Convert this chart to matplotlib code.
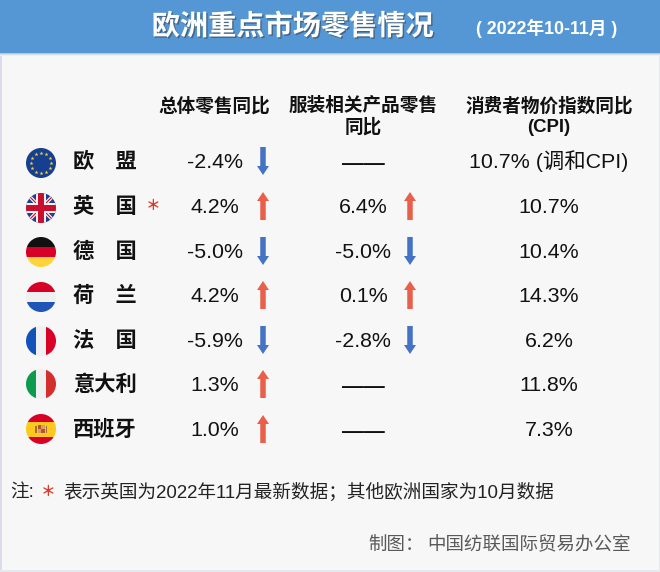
import matplotlib
matplotlib.use('Agg')
import matplotlib.pyplot as plt
import matplotlib.patheffects as pe
from matplotlib.patches import Rectangle, Circle
import numpy as np

plt.rcParams['font.family'] = ['Liberation Sans', 'Noto Sans CJK SC']

countries = ['欧　盟', '英　国', '德　国', '荷　兰', '法　国', '意大利', '西班牙']
retail = [-2.4, 4.2, -5.0, 4.2, -5.9, 1.3, 1.0]
apparel = [None, 6.4, -5.0, 0.1, -2.8, None, None]
cpi = ['10.7% (调和CPI)', '10.7%', '10.4%', '14.3%', '6.2%', '11.8%', '7.3%']
col_titles = [['总体零售同比'], ['服装相关产品零售', '同比'], ['消费者物价指数同比', '(CPI)']]

BLUE = '#5597D5'
UP = '#E8604A'
DOWN = '#4472C4'
TEXT = '#111111'
STAR = '#D93A2B'
row_y = [162, 207, 252, 296, 341, 385, 430]
flag_y = [163, 208, 252, 297, 341, 384, 429]

fig = plt.figure(figsize=(6.6, 5.72), dpi=100, facecolor='#F7F7F7')
ax = fig.add_axes([0, 0, 1, 1])
ax.set_xlim(0, 660)
ax.set_ylim(572, 0)
ax.axis('off')

# header band and its soft shadow
ax.add_patch(Rectangle((0, 0), 660, 53, color=BLUE, lw=0, zorder=2))
for i, c in enumerate(['#B9C6D3', '#DADFE4', '#EEEFF1']):
    ax.add_patch(Rectangle((0, 53 + i), 660, 1, color=c, lw=0, zorder=1))
ax.add_patch(Rectangle((0, 56), 1.5, 516, color='#DCDCEC', lw=0, zorder=1))
ax.add_patch(Rectangle((0, 570), 660, 2, color='#E6E8EE', lw=0, zorder=1))
ax.add_patch(Rectangle((658.5, 56), 1.5, 516, color='#E6E8EE', lw=0, zorder=1))

ax.text(293, 27, '欧洲重点市场零售情况', color='white', fontsize=20.3, fontweight='bold',
        ha='center', va='center', zorder=3,
        path_effects=[pe.withSimplePatchShadow(offset=(1, -1), shadow_rgbFace='#333333', alpha=0.5)])
ax.text(547, 28, '( 2022年10-11月 )', color='white', fontsize=12.8, fontweight='bold',
        ha='center', va='center', zorder=3)

for x, lines in zip([214, 363, 549], col_titles):
    for k, t in enumerate(lines):
        ax.text(x, 106 + 21 * k, t, fontsize=13.4, fontweight='bold', ha='center', va='center', color=TEXT)


def clip_all(patches, cx, cy, r=15):
    for p in patches:
        if isinstance(p, Rectangle):
            ax.add_patch(p)
        p.set_clip_path(Circle((cx, cy), r, transform=ax.transData))


def stripes(cx, cy, colors, vertical=False, sizes=None):
    # flag made of even bands, clipped to a disc
    r = 15
    sizes = sizes or [1] * len(colors)
    edges = np.cumsum([0] + sizes) / sum(sizes) * 2 * r - r
    out = []
    for c, a, b in zip(colors, edges[:-1], edges[1:]):
        if vertical:
            out.append(Rectangle((cx + a, cy - r), b - a, 2 * r, color=c, lw=0))
        else:
            out.append(Rectangle((cx - r, cy + a), 2 * r, b - a, color=c, lw=0))
    clip_all(out, cx, cy, r)


def flag_eu(cx, cy):
    ax.add_patch(Circle((cx, cy), 15, color='#173F8F', lw=0))
    ang = np.linspace(0, 2 * np.pi, 12, endpoint=False)
    ax.scatter(cx + 10 * np.cos(ang), cy + 10 * np.sin(ang), s=9, marker='*', color='#F2D02F', lw=0, zorder=3)


def flag_uk(cx, cy):
    r = 15
    ax.add_patch(Circle((cx, cy), r, color='#1F3F8A', lw=0, zorder=2))
    lines = []
    for sx in [1, -1]:
        lines += ax.plot([cx - r, cx + r], [cy - r * sx, cy + r * sx], color='#F2F2F2', lw=2.6, zorder=3)
        lines += ax.plot([cx - r, cx + r], [cy - r * sx, cy + r * sx], color='#C8102E', lw=0.8, zorder=3)
    clip_all(lines, cx, cy, r)
    clip_all([Rectangle((cx - 5, cy - r), 10, 2 * r, color='#F2F2F2', lw=0, zorder=4),
              Rectangle((cx - r, cy - 5), 2 * r, 10, color='#F2F2F2', lw=0, zorder=4),
              Rectangle((cx - 3, cy - r), 6, 2 * r, color='#C8102E', lw=0, zorder=5),
              Rectangle((cx - r, cy - 3), 2 * r, 6, color='#C8102E', lw=0, zorder=5)], cx, cy, r)


def flag_de(cx, cy):
    stripes(cx, cy, ['#111111', '#D80027', '#FFD43A'])


def flag_nl(cx, cy):
    stripes(cx, cy, ['#D80027', '#F0F0F0', '#1F55B5'])


def flag_fr(cx, cy):
    stripes(cx, cy, ['#0F52BA', '#F0F0F0', '#D80027'], vertical=True)


def flag_it(cx, cy):
    stripes(cx, cy, ['#0B9A4E', '#F0F0F0', '#D32F2F'], vertical=True)


def flag_es(cx, cy):
    stripes(cx, cy, ['#D80027', '#FFC81E', '#D80027'], sizes=[1, 2, 1])
    ax.add_patch(Rectangle((cx - 3.5, cy - 4), 3.5, 4, color='#B5562A', lw=0, zorder=3))
    ax.add_patch(Rectangle((cx, cy - 4), 3.5, 4, color='#D9A066', lw=0, zorder=3))
    ax.add_patch(Rectangle((cx - 3.5, cy), 3.5, 4, color='#D9A066', lw=0, zorder=3))
    ax.add_patch(Rectangle((cx, cy), 3.5, 4, color='#B5562A', lw=0, zorder=3))
    ax.add_patch(Rectangle((cx - 6, cy - 3), 1.5, 7, color='#A8702F', lw=0, zorder=3))
    ax.add_patch(Rectangle((cx + 4.5, cy - 3), 1.5, 7, color='#A8702F', lw=0, zorder=3))


flags = [flag_eu, flag_uk, flag_de, flag_nl, flag_fr, flag_it, flag_es]


def arrow(x, y, v):
    # up for growth, down for decline
    sign = -1 if v > 0 else 1
    ax.arrow(x, y - sign * 14, 0, sign * 28, width=5.5, head_width=12, head_length=9,
             length_includes_head=True, color=UP if v > 0 else DOWN, lw=0, zorder=3)


for i in range(len(countries)):
    y = row_y[i]
    base = y + 6
    flags[i](41, flag_y[i])
    ax.text(105, y, countries[i], fontsize=15.3, fontweight='bold', ha='center', va='center', color=TEXT)
    ax.text(215, base, f'{retail[i]:.1f}%', fontsize=15.4, ha='center', va='baseline', color=TEXT)
    arrow(263, y - 1, retail[i])
    if apparel[i] is None:
        ax.text(363, base + 1, '——', fontsize=15.4, fontweight='bold', ha='center', va='baseline', color=TEXT)
    else:
        ax.text(363, base, f'{apparel[i]:.1f}%', fontsize=15.4, ha='center', va='baseline', color=TEXT)
        arrow(410, y - 1, apparel[i])
    ax.text(549, base, cpi[i], fontsize=15.4, ha='center', va='baseline', color=TEXT)

ax.text(153, 205, '＊', fontsize=10.5, fontweight='bold', ha='center', va='center', color=STAR, family='Noto Sans CJK SC')
ax.text(10, 498, '注:', fontsize=13.4, ha='left', va='baseline', color='#222222')
ax.text(48, 491, '＊', fontsize=10.5, fontweight='bold', ha='center', va='center', color=STAR, family='Noto Sans CJK SC')
ax.text(63, 498, '表示英国为2022年11月最新数据；其他欧洲国家为10月数据', fontsize=13.4, ha='left', va='baseline', color='#222222')
ax.text(368, 550, '制图：', fontsize=13.3, ha='left', va='baseline', color='#595959')
ax.text(631, 550, '中国纺联国际贸易办公室', fontsize=13.3, ha='right', va='baseline', color='#595959')

fig.savefig('out.png', dpi=100, facecolor=fig.get_facecolor())
